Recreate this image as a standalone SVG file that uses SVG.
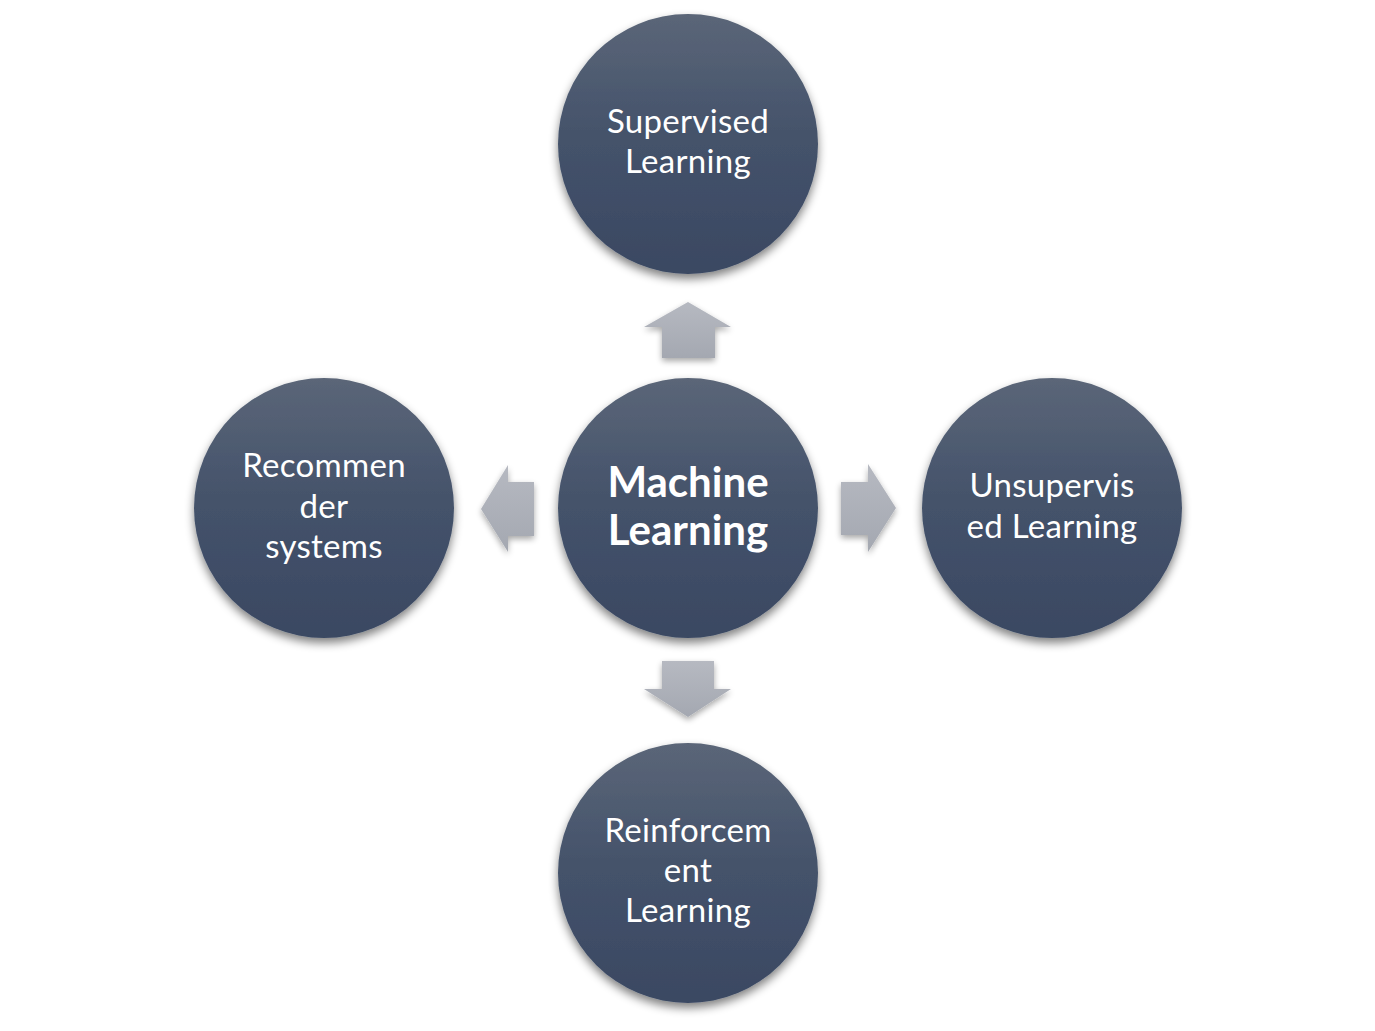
<svg xmlns="http://www.w3.org/2000/svg" width="1375" height="1031" viewBox="0 0 1375 1031">
<defs>
<linearGradient id="gc" x1="0" y1="0" x2="0" y2="1">
<stop offset="0" stop-color="#5b6678"/>
<stop offset="0.45" stop-color="#45536b"/>
<stop offset="1" stop-color="#3a4862"/>
</linearGradient>
<linearGradient id="ga" x1="0" y1="0" x2="0" y2="1">
<stop offset="0" stop-color="#b6b9c1"/>
<stop offset="1" stop-color="#a4a8b1"/>
</linearGradient>
<filter id="sh" x="-20%" y="-20%" width="140%" height="145%">
<feGaussianBlur in="SourceAlpha" stdDeviation="5"/>
<feOffset dx="0" dy="5" result="b"/>
<feComponentTransfer><feFuncA type="linear" slope="0.5"/></feComponentTransfer>
<feMerge><feMergeNode/><feMergeNode in="SourceGraphic"/></feMerge>
</filter>
<filter id="sha" x="-30%" y="-30%" width="160%" height="170%">
<feGaussianBlur in="SourceAlpha" stdDeviation="3"/>
<feOffset dx="0" dy="3" result="b"/>
<feComponentTransfer><feFuncA type="linear" slope="0.35"/></feComponentTransfer>
<feMerge><feMergeNode/><feMergeNode in="SourceGraphic"/></feMerge>
</filter>
</defs>
<style>
.c{fill:url(#gc);filter:url(#sh)}
.a{fill:url(#ga);filter:url(#sha)}
.t{font-family:Lato,"Open Sans",sans-serif;font-size:33px;letter-spacing:0.3px;fill:#ffffff;text-anchor:middle}
.b{font-family:Lato,"Open Sans",sans-serif;font-size:42px;font-weight:bold;fill:#ffffff;text-anchor:middle}
</style>
<rect width="1375" height="1031" fill="#ffffff"/>
<g id="connectors">
<polygon class="a" points="688,302 731,327 715,327 715,358 662,358 662,327 644,327"/>
<polygon class="a" points="688,717 731,689 714,689 714,661 662,661 662,689 644,689"/>
<polygon class="a" points="481,509 508,465 508,482 534,482 534,536 508,536 508,552"/>
<polygon class="a" points="896,508 868,464 868,482 841,482 841,535 868,535 868,552"/>
</g>
<g id="center">
<circle class="c" cx="688" cy="508" r="130"/>
<text class="b" x="688" y="497">Machine</text>
<text class="b" x="688" y="545">Learning</text>
</g>
<g id="supervised">
<circle class="c" cx="688" cy="144" r="130"/>
<text class="t" x="688" y="133">Supervised</text>
<text class="t" x="688" y="173">Learning</text>
</g>
<g id="recommender">
<circle class="c" cx="324" cy="508" r="130"/>
<text class="t" x="324" y="477">Recommen</text>
<text class="t" x="324" y="518">der</text>
<text class="t" x="324" y="558">systems</text>
</g>
<g id="unsupervised">
<circle class="c" cx="1052" cy="508" r="130"/>
<text class="t" x="1052" y="497">Unsupervis</text>
<text class="t" x="1052" y="538">ed Learning</text>
</g>
<g id="reinforcement">
<circle class="c" cx="688" cy="873" r="130"/>
<text class="t" x="688" y="842">Reinforcem</text>
<text class="t" x="688" y="882">ent</text>
<text class="t" x="688" y="922">Learning</text>
</g>
</svg>
